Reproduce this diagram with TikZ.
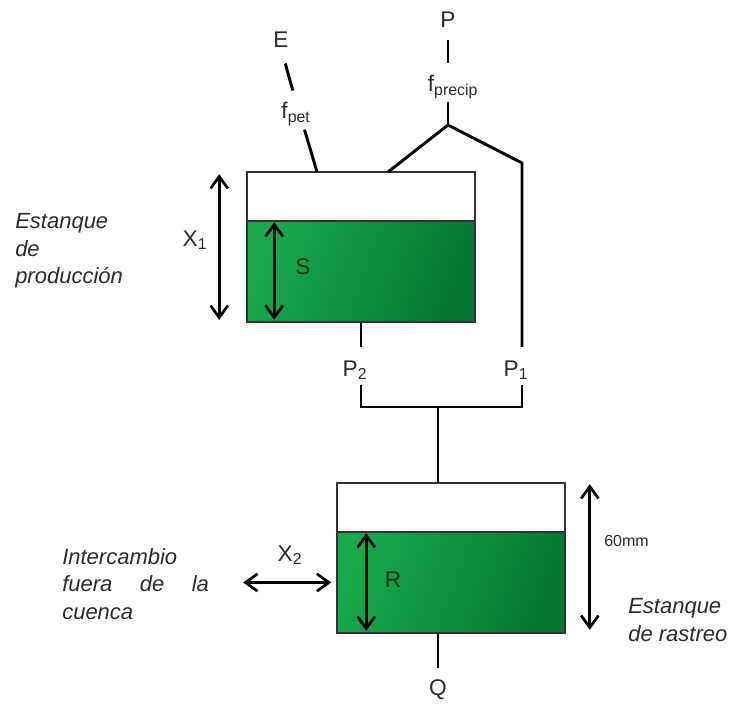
\documentclass[tikz,border=0pt]{standalone}
\usepackage{fontspec}
\setmainfont{Liberation Sans}
\usepackage{xcolor}
\definecolor{aguaclara}{HTML}{19A84B}
\definecolor{aguaoscura}{HTML}{067632}
\definecolor{textogris}{HTML}{2B2B2B}
\definecolor{textoverde}{HTML}{15361D}
\definecolor{bordegris}{HTML}{333333}
\usepackage{tikz}
\usetikzlibrary{arrows.meta,positioning,calc}

\begin{document}
\begin{tikzpicture}[x=0.75pt,y=-0.75pt,
  tank/.style={draw=bordegris,line width=1.2pt,
               minimum width=171pt,minimum height=112.5pt,inner sep=0pt},
  water/.style={draw=bordegris,line width=1.2pt,
                left color=aguaclara,right color=aguaoscura,shading angle=70,
                minimum width=171pt,minimum height=75.75pt,inner sep=0pt},
  lbl/.style={font=\fontsize{17}{20}\selectfont,text=textogris,inner sep=0pt},
  note/.style={font=\fontsize{16.5}{20.6}\selectfont\itshape,text=textogris,
               align=left,inner sep=0pt},
  flow/.style={line width=2.2pt,black},
  dim/.style={line width=2pt,black,
              {Straight Barb[length=9pt,width=13pt]}-{Straight Barb[length=9pt,width=13pt]}}
]
\useasboundingbox (0,0) rectangle (737,703);

% Estanques
\node[tank] (prod) at (361,247) {};
\node[water,anchor=south] (prodW) at (prod.south) {};
\node[tank] (rout) at (451,558) {};
\node[water,anchor=south] (routW) at (rout.south) {};

% Etiquetas
\node[lbl] (E) at (281,40) {E};
\node[lbl] (fpet) at (296,114) {f\textsubscript{pet}};
\node[lbl] (P) at (448,20) {P};
\node[lbl] (fprecip) at (453,87) {f\textsubscript{precip}};
\node[lbl] (X1) at (195,240) {X\textsubscript{1}};
\node[lbl,text=textoverde] (S) at (303,267) {S};
\node[lbl] (P2) at (355,370) {P\textsubscript{2}};
\node[lbl] (P1) at (516,370) {P\textsubscript{1}};
\node[lbl] (X2) at (290,555) {X\textsubscript{2}};
\node[lbl,text=textoverde] (R) at (393,580) {R};
\node[lbl] (Q) at (438,690) {Q};
\node[lbl,font=\fontsize{12}{14}\selectfont,anchor=west] (vol) at (604,541) {60mm};

% Textos
\node[note,anchor=west] (prodtxt) at (15,251) {Estanque\\de\\producción};
\node[note,anchor=west,text width=110pt] (xchtxt) at (62,584)
  {Intercambio\\fuera\hfill de\hfill la\\cuenca};
\node[note,anchor=west] (rastxt) at (628,620) {Estanque\\de rastreo};

% Puntos de union
\coordinate (petIn) at (317,172);
\coordinate (rainIn) at (388,172);
\coordinate (split) at (448,125);
\coordinate (bypass) at (522,163);
\coordinate (join) at (438,407);
\coordinate (rIn) at (438,483);

% Flujos
\draw[flow,shorten <=12pt,shorten >=9pt] (E.south) -- (fpet.north);
\draw[flow,shorten <=3pt] ($(fpet.south)!0.5!(fpet.south east)$) -- (petIn);
\draw[flow,shorten <=9pt,shorten >=9pt] (P.south) -- (P.south |- fprecip.north);
\draw[flow,shorten <=2pt] (fprecip.south -| split) -- (split);
\draw[flow] (split) -- (rainIn);
\draw[flow,shorten >=10pt] (split) -- (bypass) -- (bypass |- P1.north);
\draw[flow,shorten >=10pt] (prod.south) -- (prod.south |- P2.north);
\draw[flow,shorten <=4pt,shorten >=4pt] (prod.south |- P2.south) |- (join) -| (bypass |- P1.south);
\draw[flow] (join) -- (rIn);
\draw[flow,shorten >=9pt] (rIn |- rout.south) -- (Q.north);

% Flechas de dimension
\draw[dim] ($(prod.north west)+(-27,3)$) -- ($(prod.south west)+(-27,-3)$);
\draw[dim] ($(prodW.north west)+(28,2)$) -- ($(prodW.south west)+(28,-3)$);
\draw[dim] ($(routW.north west)+(30,2)$) -- ($(routW.south west)+(30,-3)$);
\draw[dim] ($(rout.north east)+(24,2)$) -- ($(rout.south east)+(24,-4)$);
\draw[dim] ($(routW.west)+(-5,0)$) -- ($(routW.west)+(-93,0)$);

\end{tikzpicture}
\end{document}
